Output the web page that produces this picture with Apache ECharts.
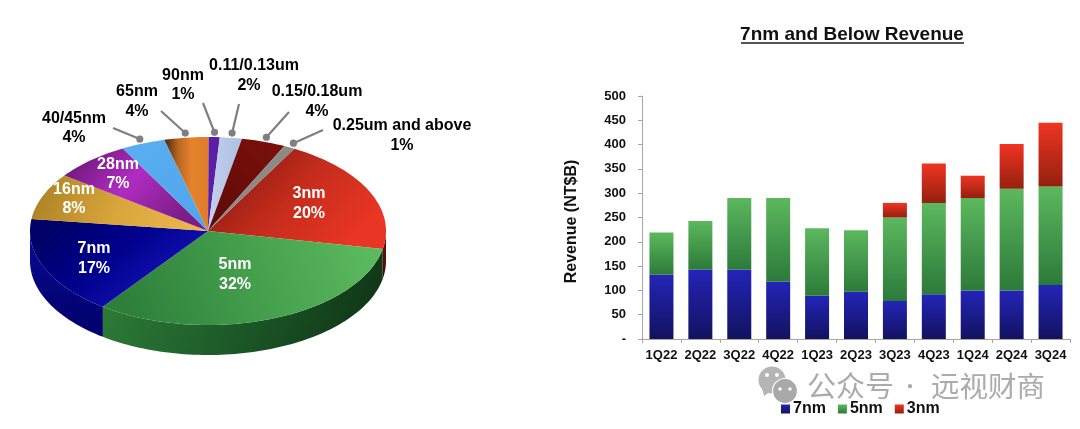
<!DOCTYPE html>
<html>
<head>
<meta charset="utf-8">
<style>html,body{margin:0;padding:0;background:#fff}#c{width:1080px;height:429px}</style>
<script src="https://cdn.jsdelivr.net/npm/echarts@6/dist/echarts.min.js"></script>
</head>
<body>
<div id="c"></div>
<script>
// ---- data ----
const nodeNames = ['3nm','5nm','7nm','16nm','28nm','40/45nm','65nm','90nm','0.11/0.13um','0.15/0.18um','0.25um and above'];
const nodeShares = [20,32,17,8,7,4,4,1,2,4,1];
const quarters = ['1Q22','2Q22','3Q22','4Q22','1Q23','2Q23','3Q23','4Q23','1Q24','2Q24','3Q24'];
const rev7nm = [132,143,143,118,89,97,78,92,100,100,111];
const rev5nm = [87,100,147,172,139,127,172,188,190,209,203];
const rev3nm = [0,0,0,0,0,0,30,81,46,92,131];
const yTicks = {max:500, interval:50};

// ---- pie look ----
const F = 'bold 16px "Liberation Sans", Arial, sans-serif';
const PIE = {cx:208, cy:231, rx:178, ry:94, depth:30, startDeg:29};
const lg = (x,y,x2,y2,stops)=>({type:'linear',x,y,x2,y2,colorStops:stops.map((c,i)=>Array.isArray(c)?{offset:c[0],color:c[1]}:{offset:i/(stops.length-1),color:c})});
const sliceLook = {
  '3nm':{top:lg(.15,0,.75,1,['#86190f','#c42c1c','#e83524']), wall:lg(0,0,0,1,['#7a150c','#3c0a06']), text:'#fff'},
  '5nm':{top:lg(1,0,.1,1,['#5ebd60','#45a04d','#2d7f3a']), wall:lg(0,0,1,1,['#2f7f39','#1d5a28','#0e3014']), text:'#fff'},
  '7nm':{top:lg(.2,0,.6,1,['#000068','#00008c','#1212b2']), wall:lg(0,0,0,1,['#0a0a9a','#05057e','#00006a']), text:'#fff'},
  '16nm':{top:lg(0,0,1,1,['#a97f22','#d9a63c','#f0b850']), text:'#fff'},
  '28nm':{top:lg(.1,0,.7,1,['#6b1775','#b02cc2','#7d1e88']), text:'#fff'},
  '40/45nm':{top:lg(0,0,1,1,['#5aaef2','#50a6ea']), text:'#000'},
  '65nm':{top:lg(0,0,1,0,[[0,'#43250a'],[.3,'#b5641f'],[.6,'#e4822d'],[1,'#e07c2a']]), text:'#000'},
  '90nm':{top:'#5a1fa2', text:'#000'},
  '0.11/0.13um':{top:lg(0,0,1,0,['#c2d0ec','#aebfe3']), text:'#000'},
  '0.15/0.18um':{top:lg(1,0,0,1,['#7c100c','#5c0a07']), text:'#000'},
  '0.25um and above':{top:'#8b8a84', text:'#000'}
};
// label centres for the two text lines, [x, yName, yShare, xShare]
const labelPlace = {
  '3nm':[309,194,214],'5nm':[235,265,285],'7nm':[94,249,269],'16nm':[74,190,209],'28nm':[118,165,184],
  '40/45nm':[74,119,138],'65nm':[137,92,112],'90nm':[183,76,95],'0.11/0.13um':[254,66,86,249],
  '0.15/0.18um':[317,92,112],'0.25um and above':[402,126,146]
};
// free end of each leader line
const leaderEnd = {
  '40/45nm':[113,128],'65nm':[161,111],'90nm':[203,103],'0.11/0.13um':[239,104],
  '0.15/0.18um':[289,112],'0.25um and above':[323,130]
};
const total = nodeShares.reduce((a,b)=>a+b,0);
const startAngles = []; nodeShares.reduce((acc,v,i)=>{startAngles[i]=acc;return acc+v/total*360;},PIE.startDeg);

function rim(deg,k,dy){ // deg clockwise from up
  const t=deg*Math.PI/180;
  return [PIE.cx+PIE.rx*(k||1)*Math.sin(t), PIE.cy-PIE.ry*(k||1)*Math.cos(t)+(dy||0)];
}
function arc(a,b,dy){
  const pts=[]; const n=Math.max(2,Math.ceil(Math.abs(b-a)/1.5));
  for(let i=0;i<=n;i++) pts.push(rim(a+(b-a)*i/n,1,dy));
  return pts;
}
function renderSlice(params,api){
  const i=params.dataIndex, name=nodeNames[i], share=api.value(0);
  const a=startAngles[i], b=a+share/total*360, look=sliceLook[name], kids=[];
  // side wall: the part of the rim facing the viewer (90..270 deg, wrapped)
  const wa=Math.max(a,90), wb=Math.min(b,270);
  if(wb>wa && look.wall){
    kids.push({type:'polygon',shape:{points:arc(wa,wb,0).concat(arc(wb,wa,PIE.depth))},style:{fill:look.wall}});
  }
  kids.push({type:'polygon',shape:{points:[[PIE.cx,PIE.cy]].concat(arc(a,b,0))},
    style:{fill:look.top,stroke:null}});
  if(leaderEnd[name]){
    const d=rim((a+b)/2,1.05), e=leaderEnd[name];
    kids.push({type:'line',z2:5,shape:{x1:d[0],y1:d[1],x2:e[0],y2:e[1]},style:{stroke:'#7f7f7f',lineWidth:2.2}});
    kids.push({type:'circle',z2:5,shape:{cx:d[0],cy:d[1],r:3.6},style:{fill:'#7f7f7f'}});
  }
  const p=labelPlace[name];
  const txt=(t,x,y)=>({type:'text',z2:10,style:{text:t,x,y,fill:look.text,font:F,align:'center',verticalAlign:'middle'}});
  kids.push(txt(name,p[0],p[1]));
  kids.push(txt(share+'%',p[3]||p[0],p[2]));
  return {type:'group',children:kids};
}

const vGrad=(a,b)=>lg(0,0,0,1,[a,b]);
const barC = {n7:vGrad('#2424b8','#12125f'), n5:vGrad('#5cb85e','#2c7a3a'), n3:vGrad('#f03422','#94200f')};

const chart=echarts.init(document.getElementById('c'),null,{renderer:'canvas'});
chart.setOption({
  animation:false,
  backgroundColor:'#fff',
  title:{text:'7nm and Below Revenue',left:847,top:20,textAlign:'center',
    textStyle:{fontFamily:'"Liberation Sans",Arial,sans-serif',fontWeight:'bold',fontSize:19,color:'#111'}},
  grid:{left:642,right:10,top:96,bottom:90},
  legend:{left:776,top:396,itemWidth:9,itemHeight:9,itemGap:12,icon:'rect',
    textStyle:{fontFamily:'"Liberation Sans",Arial,sans-serif',fontWeight:'bold',fontSize:16,color:'#111',padding:[0,0,0,-2]},
    data:['7nm','5nm','3nm']},
  xAxis:{type:'category',data:quarters,
    axisLine:{lineStyle:{color:'#a6a6a6',width:1}},
    axisTick:{show:true,length:4,lineStyle:{color:'#a6a6a6'}},
    axisLabel:{color:'#111',fontWeight:'bold',fontSize:13,fontFamily:'"Liberation Sans",Arial,sans-serif',margin:10,interval:0}},
  yAxis:{type:'value',min:0,max:yTicks.max,interval:yTicks.interval,
    name:'Revenue (NT$B)',nameLocation:'middle',nameGap:62,
    nameTextStyle:{color:'#111',fontWeight:'bold',fontSize:16,fontFamily:'"Liberation Sans",Arial,sans-serif',padding:[0,8,0,0]},
    axisLine:{show:true,lineStyle:{color:'#a6a6a6',width:1}},
    axisTick:{show:true,length:4,lineStyle:{color:'#a6a6a6'}},
    splitLine:{show:false},
    axisLabel:{color:'#111',fontWeight:'bold',fontSize:13,fontFamily:'"Liberation Sans",Arial,sans-serif',margin:16,
      formatter:v=>v===0?'-':String(v)}},
  series:[
    {name:'7nm',type:'bar',stack:'r',barWidth:24,data:rev7nm,itemStyle:{color:barC.n7}},
    {name:'5nm',type:'bar',stack:'r',barWidth:24,data:rev5nm,itemStyle:{color:barC.n5}},
    {name:'3nm',type:'bar',stack:'r',barWidth:24,data:rev3nm,itemStyle:{color:barC.n3}},
    {name:'share',type:'custom',coordinateSystem:'none',renderItem:renderSlice,
      data:nodeShares.map(v=>[v]),clip:false,silent:true}
  ],
  graphic:{elements:[
    {type:'rect',z:1,shape:{x:741,y:42,width:223,height:2},style:{fill:'#555'}},
    // watermark
    {type:'circle',z:0,shape:{cx:772,cy:380,r:13.5},style:{fill:'#b5b5b5'}},
    {type:'polygon',z:0,shape:{points:[[762,388],[764,396],[771,391]]},style:{fill:'#b5b5b5'}},
    {type:'circle',z:0,shape:{cx:785,cy:391,r:12.5},style:{fill:'#a9a9a9',stroke:'#fff',lineWidth:1.2}},
    {type:'circle',z:0,shape:{cx:767,cy:375,r:2},style:{fill:'#fff'}},
    {type:'circle',z:0,shape:{cx:777,cy:375,r:2},style:{fill:'#fff'}},
    {type:'circle',z:0,shape:{cx:780,cy:389,r:1.7},style:{fill:'#fff'}},
    {type:'circle',z:0,shape:{cx:790,cy:389,r:1.7},style:{fill:'#fff'}},
    {type:'text',z:0,style:{text:'公众号',x:807,y:386,fill:'#ababab',font:'29px "Noto Sans CJK SC"',verticalAlign:'middle'}},
    {type:'text',z:0,style:{text:'·',x:910,y:386,fill:'#ababab',font:'20px "Noto Sans CJK SC"',align:'center',verticalAlign:'middle'}},
    {type:'text',z:0,style:{text:'远视财商',x:931,y:386,fill:'#ababab',font:'28.5px "Noto Sans CJK SC"',verticalAlign:'middle'}}
  ]}
});
</script>
</body>
</html>
